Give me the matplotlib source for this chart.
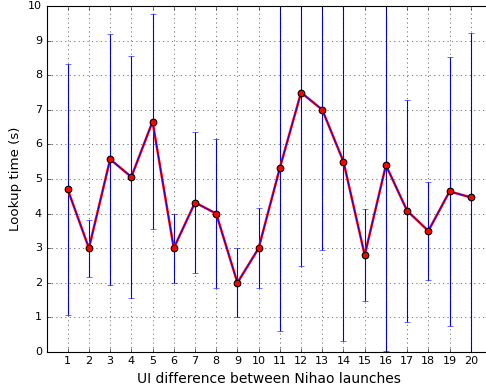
import numpy as np
import matplotlib
matplotlib.use('Agg')
import matplotlib.pyplot as plt

plt.style.use('classic')

launch_diff = list(range(1, 21))
lookup_mean = [4.70, 3.00, 5.57, 5.06, 6.66, 3.00, 4.32, 4.00, 2.00, 3.00,
               5.32, 7.50, 7.00, 5.50, 2.80, 5.40, 4.08, 3.50, 4.64, 4.47]
lookup_err = [3.63, 0.82, 3.62, 3.50, 3.10, 1.00, 2.05, 2.16, 1.00, 1.15,
              4.71, 5.02, 4.05, 5.18, 1.33, 5.36, 3.20, 1.41, 3.90, 4.74]

fig = plt.figure(figsize=(486 / 80.0, 386 / 80.0), dpi=80, facecolor='white')
# axes runs past the right edge like the original (right spine cut off)
ax = fig.add_axes([46.5 / 486, 34.0 / 386, (492.0 - 46.5) / 486, 346.0 / 386])

ax.errorbar(launch_diff, lookup_mean, yerr=lookup_err, fmt='none',
            ecolor='b', elinewidth=1, capsize=3, zorder=2)
ax.plot(launch_diff, lookup_mean, color='r', lw=2.2, zorder=3)
ax.plot(launch_diff, lookup_mean, color='b', lw=0.8, zorder=4)
ax.plot(launch_diff, lookup_mean, 'o', mfc='r', mec='k', mew=1, ms=6, zorder=5)

ax.set_xlim(0, 21)
ax.set_ylim(0, 10)
ax.set_xticks(launch_diff)
ax.set_yticks(range(0, 11))
ax.tick_params(labelsize=10)
ax.grid(True, color='k', linestyle=':')
ax.set_xlabel('UI difference between Nihao launches', fontsize=12.5)
ax.set_ylabel('Lookup time (s)', fontsize=12)

fig.savefig('out.png', dpi=80, facecolor='white')
